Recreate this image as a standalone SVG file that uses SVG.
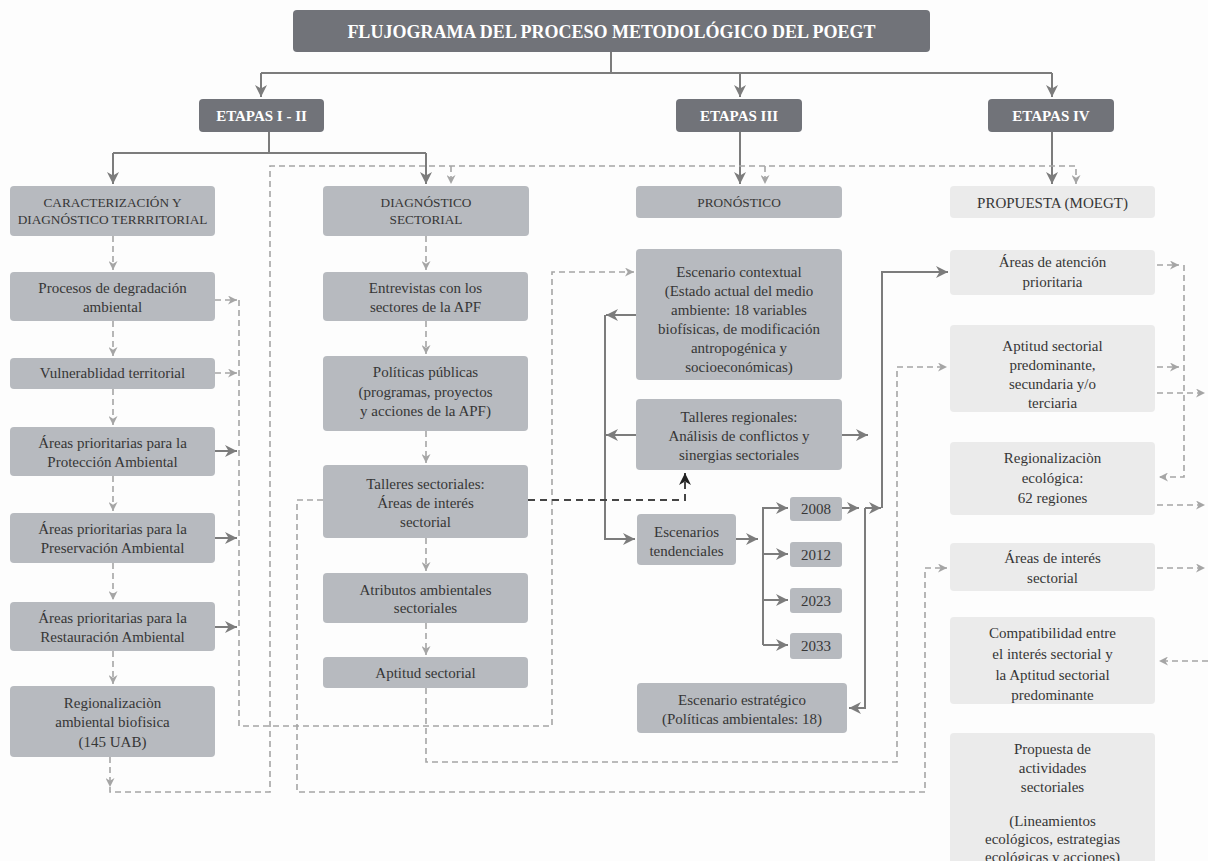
<svg xmlns="http://www.w3.org/2000/svg" width="1208" height="861" viewBox="0 0 1208 861">
<defs>
<style>
text{font-family:"Liberation Serif","Times New Roman",serif;text-anchor:middle}
.dk{fill:#717379}
.md{fill:#b7babf}
.lt{fill:#ebebeb}
.tw{fill:#ffffff;font-weight:bold}
.tb{fill:#363636;font-size:15px}
.tc{fill:#363636;font-size:13.3px}
.s{fill:none;stroke:#7c7c7c;stroke-width:2}
.d{fill:none;stroke:#a5a5a5;stroke-width:1.6;stroke-dasharray:6 4}
.k{fill:none;stroke:#454545;stroke-width:2;stroke-dasharray:7 5}
</style>
<marker id="ah" viewBox="0 0 10 10" refX="10" refY="5" markerWidth="12" markerHeight="12" markerUnits="userSpaceOnUse" orient="auto"><path d="M0,0 L10,5 L0,10 L3,5 z" fill="#7c7c7c"/></marker>
<marker id="ad" viewBox="0 0 10 10" refX="10" refY="5" markerWidth="9" markerHeight="9" markerUnits="userSpaceOnUse" orient="auto"><path d="M0,0 L10,5 L0,10 L3,5 z" fill="#a5a5a5"/></marker>
<marker id="ak" viewBox="0 0 10 10" refX="10" refY="5" markerWidth="12" markerHeight="12" markerUnits="userSpaceOnUse" orient="auto"><path d="M0,0 L10,5 L0,10 L3,5 z" fill="#222"/></marker>
</defs>
<rect x="0" y="0" width="1208" height="861" fill="#fdfdfd"/>

<g id="connectors">
<path class="s" d="M611,52 V73 M261,73 H1052"/>
<path class="s" d="M261,73 V97" marker-end="url(#ah)"/>
<path class="s" d="M740,73 V97" marker-end="url(#ah)"/>
<path class="s" d="M1052,73 V97" marker-end="url(#ah)"/>
<path class="s" d="M269,132 V153 M113,153 H426"/>
<path class="s" d="M113,153 V184" marker-end="url(#ah)"/>
<path class="s" d="M426,153 V184" marker-end="url(#ah)"/>
<path class="s" d="M740,132 V184" marker-end="url(#ah)"/>
<path class="s" d="M1052,132 V184" marker-end="url(#ah)"/>
<path class="s" d="M215,451 H237" marker-end="url(#ah)"/>
<path class="s" d="M215,538 H237" marker-end="url(#ah)"/>
<path class="s" d="M215,627 H237" marker-end="url(#ah)"/>
<path class="s" d="M636,315 H606" marker-end="url(#ah)"/>
<path class="s" d="M636,435 H606" marker-end="url(#ah)"/>
<path class="s" d="M605,315 V539 H635" marker-end="url(#ah)"/>
<path class="s" d="M842,435 H868" marker-end="url(#ah)"/>
<path class="s" d="M736,539 H758" marker-end="url(#ah)"/>
<path class="s" d="M763,645 V508 H788" marker-end="url(#ah)"/>
<path class="s" d="M763,554 H788" marker-end="url(#ah)"/>
<path class="s" d="M763,600 H788" marker-end="url(#ah)"/>
<path class="s" d="M763,645 H788" marker-end="url(#ah)"/>
<path class="s" d="M842,508 H859" marker-end="url(#ah)"/>
<path class="s" d="M865,508 H881" marker-end="url(#ah)"/>
<path class="s" d="M865,508 V708 H849" marker-end="url(#ah)"/>
<path class="s" d="M882,508 V272 H948" marker-end="url(#ah)"/>

<path class="d" d="M110,757 V787" marker-end="url(#ad)"/>
<path class="d" d="M110,787 V792 H270 V166 H1076 V184" marker-end="url(#ad)"/>
<path class="d" d="M451,166 V184" marker-end="url(#ad)"/>
<path class="d" d="M765,166 V184" marker-end="url(#ad)"/>
<path class="d" d="M323,500 H297 V792 H925 V568 H947" marker-end="url(#ad)"/>
<path class="d" d="M215,300 H237" marker-end="url(#ad)"/>
<path class="d" d="M215,373 H237" marker-end="url(#ad)"/>
<path class="d" d="M239,300 V726 H552 V272 H634" marker-end="url(#ad)"/>
<path class="d" d="M426,688 V762 H897 V367 H947" marker-end="url(#ad)"/>
<path class="d" d="M113,236 V270" marker-end="url(#ad)"/>
<path class="d" d="M113,321 V356" marker-end="url(#ad)"/>
<path class="d" d="M113,389 V425" marker-end="url(#ad)"/>
<path class="d" d="M113,476 V511" marker-end="url(#ad)"/>
<path class="d" d="M113,563 V600" marker-end="url(#ad)"/>
<path class="d" d="M113,651 V684" marker-end="url(#ad)"/>
<path class="d" d="M426,236 V270" marker-end="url(#ad)"/>
<path class="d" d="M426,321 V354" marker-end="url(#ad)"/>
<path class="d" d="M426,431 V463" marker-end="url(#ad)"/>
<path class="d" d="M426,538 V571" marker-end="url(#ad)"/>
<path class="d" d="M426,623 V655" marker-end="url(#ad)"/>
<path class="d" d="M1157,265 H1179" marker-end="url(#ad)"/>
<path class="d" d="M1157,367 H1179" marker-end="url(#ad)"/>
<path class="d" d="M1184,265 V477 H1159" marker-end="url(#ad)"/>
<path class="d" d="M1157,393 H1205" marker-end="url(#ad)"/>
<path class="d" d="M1157,505 H1205" marker-end="url(#ad)"/>
<path class="d" d="M1157,568 H1205" marker-end="url(#ad)"/>
<path class="d" d="M1208,661 H1159" marker-end="url(#ad)"/>
<path class="k" d="M528,500 H685 V473" marker-end="url(#ak)"/>
</g>

<g id="title"><rect class="dk" x="293" y="10" width="637" height="42" rx="4"/><text class="tw" x="611.5" y="37.5" font-size="18">FLUJOGRAMA DEL PROCESO METODOLÓGICO DEL POEGT</text></g>
<g id="etapa12"><rect class="dk" x="199" y="99" width="125" height="33" rx="4"/><text class="tw" x="261.5" y="121" font-size="15">ETAPAS I - II</text></g>
<g id="etapa3"><rect class="dk" x="676" y="99" width="126" height="33" rx="4"/><text class="tw" x="739" y="121" font-size="15">ETAPAS III</text></g>
<g id="etapa4"><rect class="dk" x="988" y="99" width="126" height="33" rx="4"/><text class="tw" x="1051" y="121" font-size="15">ETAPAS IV</text></g>

<g id="caract"><rect class="md" x="10" y="186" width="205" height="50" rx="4"/><text class="tc" x="112.5" y="207">CARACTERIZACIÓN Y</text><text class="tc" x="112.5" y="224">DIAGNÓSTICO TERRRITORIAL</text></g>
<g id="diag"><rect class="md" x="323" y="186" width="206" height="50" rx="4"/><text class="tc" x="426" y="207">DIAGNÓSTICO</text><text class="tc" x="426" y="224">SECTORIAL</text></g>
<g id="pronostico"><rect class="md" x="636" y="186" width="206" height="32" rx="4"/><text class="tc" x="739" y="207">PRONÓSTICO</text></g>
<g id="propuesta"><rect class="lt" x="950" y="186" width="205" height="32" rx="4"/><text class="tb" x="1052.5" y="208">PROPUESTA (MOEGT)</text></g>

<g id="procesos"><rect class="md" x="10" y="272" width="205" height="49" rx="4"/><text class="tb" x="112.5" y="293">Procesos de degradación</text><text class="tb" x="112.5" y="312">ambiental</text></g>
<g id="vulnerabilidad"><rect class="md" x="10" y="358" width="205" height="31" rx="4"/><text class="tb" x="112.5" y="378">Vulnerablidad territorial</text></g>
<g id="proteccion"><rect class="md" x="10" y="427" width="205" height="49" rx="4"/><text class="tb" x="112.5" y="448">Áreas prioritarias para la</text><text class="tb" x="112.5" y="467">Protección Ambiental</text></g>
<g id="preservacion"><rect class="md" x="10" y="513" width="205" height="50" rx="4"/><text class="tb" x="112.5" y="534">Áreas prioritarias para la</text><text class="tb" x="112.5" y="553">Preservación Ambiental</text></g>
<g id="restauracion"><rect class="md" x="10" y="602" width="205" height="49" rx="4"/><text class="tb" x="112.5" y="623">Áreas prioritarias para la</text><text class="tb" x="112.5" y="642">Restauración Ambiental</text></g>
<g id="regamb"><rect class="md" x="10" y="686" width="205" height="71" rx="4"/><text class="tb" x="112.5" y="708">Regionalizaciòn</text><text class="tb" x="112.5" y="727">ambiental biofisica</text><text class="tb" x="112.5" y="747">(145 UAB)</text></g>

<g id="entrevistas"><rect class="md" x="323" y="272" width="205" height="49" rx="4"/><text class="tb" x="425.5" y="293">Entrevistas con los</text><text class="tb" x="425.5" y="312">sectores de la APF</text></g>
<g id="politicas"><rect class="md" x="323" y="356" width="205" height="75" rx="4"/><text class="tb" x="425.5" y="377">Políticas públicas</text><text class="tb" x="425.5" y="397">(programas, proyectos</text><text class="tb" x="425.5" y="416">y acciones de la APF)</text></g>
<g id="talleres"><rect class="md" x="323" y="465" width="205" height="73" rx="4"/><text class="tb" x="425.5" y="489">Talleres sectoriales:</text><text class="tb" x="425.5" y="508">Áreas de interés</text><text class="tb" x="425.5" y="527">sectorial</text></g>
<g id="atributos"><rect class="md" x="323" y="573" width="205" height="50" rx="4"/><text class="tb" x="425.5" y="595">Atributos ambientales</text><text class="tb" x="425.5" y="613">sectoriales</text></g>
<g id="aptitud"><rect class="md" x="323" y="657" width="205" height="31" rx="4"/><text class="tb" x="425.5" y="678">Aptitud sectorial</text></g>

<g id="contextual"><rect class="md" x="636" y="249" width="206" height="131" rx="4"/><text class="tb" x="739" y="277">Escenario contextual</text><text class="tb" x="739" y="296">(Estado actual del medio</text><text class="tb" x="739" y="315">ambiente: 18 variables</text><text class="tb" x="739" y="334">biofísicas, de modificación</text><text class="tb" x="739" y="353">antropogénica y</text><text class="tb" x="739" y="372">socioeconómicas)</text></g>
<g id="tregionales"><rect class="md" x="636" y="399" width="206" height="71" rx="4"/><text class="tb" x="739" y="422">Talleres regionales:</text><text class="tb" x="739" y="441">Análisis de conflictos y</text><text class="tb" x="739" y="460">sinergias sectoriales</text></g>
<g id="tendenciales"><rect class="md" x="637" y="514" width="99" height="51" rx="4"/><text class="tb" x="686.5" y="537">Escenarios</text><text class="tb" x="686.5" y="556">tendenciales</text></g>
<g id="y2008"><rect class="md" x="790" y="497" width="52" height="24" rx="3"/><text class="tb" x="816" y="514">2008</text></g>
<g id="y2012"><rect class="md" x="790" y="542" width="52" height="25" rx="3"/><text class="tb" x="816" y="560">2012</text></g>
<g id="y2023"><rect class="md" x="790" y="588" width="52" height="25" rx="3"/><text class="tb" x="816" y="606">2023</text></g>
<g id="y2033"><rect class="md" x="790" y="633" width="52" height="26" rx="3"/><text class="tb" x="816" y="651">2033</text></g>
<g id="estrategico"><rect class="md" x="637" y="683" width="210" height="50" rx="4"/><text class="tb" x="742" y="705">Escenario estratégico</text><text class="tb" x="742" y="724">(Políticas ambientales: 18)</text></g>

<g id="atencion"><rect class="lt" x="950" y="250" width="205" height="45" rx="4"/><text class="tb" x="1052.5" y="267">Áreas de atención</text><text class="tb" x="1052.5" y="287">prioritaria</text></g>
<g id="aptpred"><rect class="lt" x="950" y="325" width="205" height="87" rx="4"/><text class="tb" x="1052.5" y="351">Aptitud sectorial</text><text class="tb" x="1052.5" y="370">predominante,</text><text class="tb" x="1052.5" y="389">secundaria y/o</text><text class="tb" x="1052.5" y="408">terciaria</text></g>
<g id="regeco"><rect class="lt" x="950" y="442" width="205" height="73" rx="4"/><text class="tb" x="1052.5" y="463">Regionalizaciòn</text><text class="tb" x="1052.5" y="483">ecológica:</text><text class="tb" x="1052.5" y="503">62 regiones</text></g>
<g id="interes"><rect class="lt" x="950" y="543" width="205" height="48" rx="4"/><text class="tb" x="1052.5" y="563">Áreas de interés</text><text class="tb" x="1052.5" y="583">sectorial</text></g>
<g id="compat"><rect class="lt" x="950" y="617" width="205" height="87" rx="4"/><text class="tb" x="1052.5" y="638">Compatibilidad entre</text><text class="tb" x="1052.5" y="659">el interés sectorial y</text><text class="tb" x="1052.5" y="680">la Aptitud sectorial</text><text class="tb" x="1052.5" y="700">predominante</text></g>
<g id="actividades"><rect class="lt" x="950" y="733" width="205" height="140" rx="4"/><text class="tb" x="1052.5" y="754">Propuesta de</text><text class="tb" x="1052.5" y="773">actividades</text><text class="tb" x="1052.5" y="792">sectoriales</text><text class="tb" x="1052.5" y="826">(Lineamientos</text><text class="tb" x="1052.5" y="844">ecológicos, estrategias</text><text class="tb" x="1052.5" y="862">ecológicas y acciones)</text></g>
</svg>
